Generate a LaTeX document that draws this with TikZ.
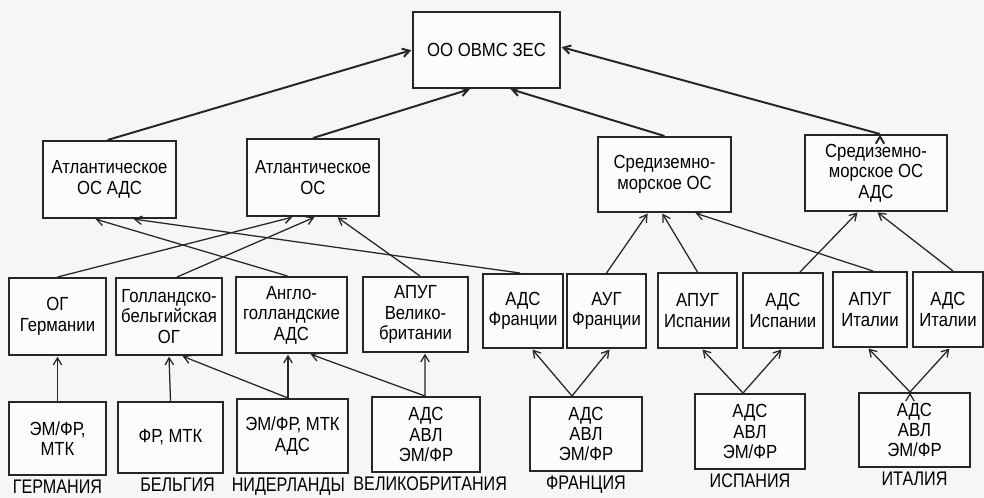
\documentclass[tikz,border=0pt]{standalone}
\usepackage{fontspec}
\setmainfont{Liberation Sans}[FakeStretch=0.88]
\usetikzlibrary{arrows.meta,calc,positioning}

\begin{document}
\begin{tikzpicture}[x=0.025cm, y=-0.025cm, ->, >={Straight Barb[length=5pt,width=6pt]}, shorten >=0.5pt,
    box node/.style={rectangle, draw=black!85, line width=1.4pt, fill=gray!2, align=center, inner sep=1pt, font=\fontsize{13.5}{14.5}\selectfont},
    country node/.style={inner sep=0pt, font=\fontsize{14}{15}\selectfont\addfontfeatures{FakeStretch=0.82}}]

    \fill[gray!7] (0,0) rectangle (984,498);
    \useasboundingbox (0,0) rectangle (984,498);

    % top
    \node[box node, minimum width=3.675cm, minimum height=1.9cm] (oo) at (486.5,50) {ОО ОВМС ЗЕС};

    \node[box node, minimum width=3.325cm, minimum height=1.925cm] (atlads) at (109.5,179.5) {Атлантическое\\ОС АДС};
    \node[box node, minimum width=3.3cm, minimum height=1.925cm] (atl) at (313,177.5) {Атлантическое\\ОС};
    \node[box node, minimum width=3.325cm, minimum height=1.875cm] (sred) at (664.5,174.5) {Средиземно-\\морское ОС};
    \node[box node, minimum width=3.55cm, minimum height=1.9cm] (sredads) at (876,173) {Средиземно-\\морское ОС\\АДС};

    % groups
    \node[box node, minimum width=2.425cm, minimum height=1.925cm] (ogger) at (57.5,316.5) {ОГ\\Германии};
    \node[box node, minimum width=2.65cm, minimum height=1.925cm] (golbel) at (169,316.5) {Голландско-\\бельгийская\\ОГ};
    \node[box node, minimum width=2.775cm, minimum height=1.9cm] (anglo) at (291.5,315) {Англо-\\голландские\\АДС};
    \node[box node, minimum width=2.625cm, minimum height=1.875cm] (apugvb) at (415.5,314.5) {АПУГ\\Велико-\\британии};
    \node[box node, minimum width=2cm, minimum height=1.85cm] (adsfr) at (523,311) {АДС\\Франции};
    \node[box node, minimum width=1.975cm, minimum height=1.85cm] (augfr) at (606.5,311) {АУГ\\Франции};
    \node[box node, minimum width=1.975cm, minimum height=1.875cm] (apugisp) at (697.5,310.5) {АПУГ\\Испании};
    \node[box node, minimum width=2cm, minimum height=1.875cm] (adsisp) at (783,310.5) {АДС\\Испании};
    \node[box node, minimum width=1.85cm, minimum height=1.875cm] (apugit) at (870,309.5) {АПУГ\\Италии};
    \node[box node, minimum width=1.75cm, minimum height=1.875cm] (adsit) at (948,309.5) {АДС\\Италии};

    % national forces
    \node[box node, minimum width=2.425cm, minimum height=1.825cm] (ger) at (57.5,438.5) {ЭМ/ФР,\\МТК};
    \node[box node, minimum width=2.625cm, minimum height=1.775cm] (bel) at (170.5,437.5) {ФР, МТК};
    \node[box node, minimum width=2.775cm, minimum height=1.85cm] (ned) at (292.5,436) {ЭМ/ФР, МТК\\АДС};
    \node[box node, minimum width=2.7cm, minimum height=1.875cm] (gb) at (426,434.5) {АДС\\АВЛ\\ЭМ/ФР};
    \node[box node, minimum width=2.8cm, minimum height=1.85cm] (fr) at (586,434) {АДС\\АВЛ\\ЭМ/ФР};
    \node[box node, minimum width=2.75cm, minimum height=1.875cm] (isp) at (750,431.5) {АДС\\АВЛ\\ЭМ/ФР};
    \node[box node, minimum width=2.775cm, minimum height=1.85cm] (ita) at (914.5,430) {АДС\\АВЛ\\ЭМ/ФР};

    \node[country node, below=2.5pt of ger] (lger) {ГЕРМАНИЯ};
    \node[country node, below=2.5pt of bel, xshift=5pt] (lbel) {БЕЛЬГИЯ};
    \node[country node, below=2.5pt of ned, xshift=-3pt] (lned) {НИДЕРЛАНДЫ};
    \node[country node, below=2.5pt of gb, xshift=3pt] (lgb) {ВЕЛИКОБРИТАНИЯ};
    \node[country node, below=2.5pt of fr] (lfr) {ФРАНЦИЯ};
    \node[country node, below=2.5pt of isp] (lisp) {ИСПАНИЯ};
    \node[country node, below=2.5pt of ita] (lita) {ИТАЛИЯ};

    \path[draw=black!85, line width=1.4pt]
        ($(atlads.north)+(-2,0)$) edge (oo.west)
        (atl.north) edge ($(oo.south)+(-16,0)$)
        (sred.north) edge ($(oo.south)+(23.5,0)$)
        ($(sredads.north)+(4,0)$) edge ($(oo.east)+(0,-3)$)
        ;

    \path[draw=black!85, line width=0.9pt]
        (ogger.north) edge ($(atl.south)+(-20,0)$)
        ($(golbel.north)+(8,0)$) edge ($(atl.south)+(2,0)$)
        ($(apugvb.north)+(4.5,0)$) edge ($(atl.south)+(24,0)$)
        ($(anglo.north)+(-4,0)$) edge ($(atlads.south)+(-14.5,0)$)
        ($(adsfr.north)+(-3,0)$) edge ($(atlads.south)+(23.5,0)$)
        (augfr.north) edge ($(sred.south)+(-16.5,0)$)
        (apugisp.north) edge ($(sred.south)+(-2.5,0)$)
        ($(apugit.north)+(3,0)$) edge ($(sred.south)+(30.5,0)$)
        ($(adsisp.north)+(17,0)$) edge ($(sredads.south)+(-18,0)$)
        ($(adsit.north)+(5,0)$) edge ($(sredads.south)+(1,0)$)

        (ger.north) edge (ogger.south)
        (bel.north) edge (golbel.south)
        ($(ned.north)+(-4.5,0)$) edge ($(anglo.south)+(-3.5,0)$)
        ($(ned.north)+(-4.5,0)$) edge ($(golbel.south)+(13,0)$)
        ($(gb.north)+(-1,0)$) edge ($(apugvb.south)+(9.5,0)$)
        ($(gb.north)+(-1,0)$) edge ($(anglo.south)+(18.5,0)$)
        ($(fr.north)+(-14,0)$) edge ($(adsfr.south)+(9,0)$)
        ($(fr.north)+(-14,0)$) edge ($(augfr.south)+(3.5,0)$)
        ($(isp.north)+(-7,0)$) edge ($(apugisp.south)+(4.5,0)$)
        ($(isp.north)+(-7,0)$) edge ($(adsisp.south)+(-1,0)$)
        ($(ita.north)+(-4.5,0)$) edge ($(apugit.south)+(-2,0)$)
        ($(ita.north)+(-4.5,0)$) edge ($(adsit.south)+(2,0)$)
        ;
\end{tikzpicture}
\end{document}
